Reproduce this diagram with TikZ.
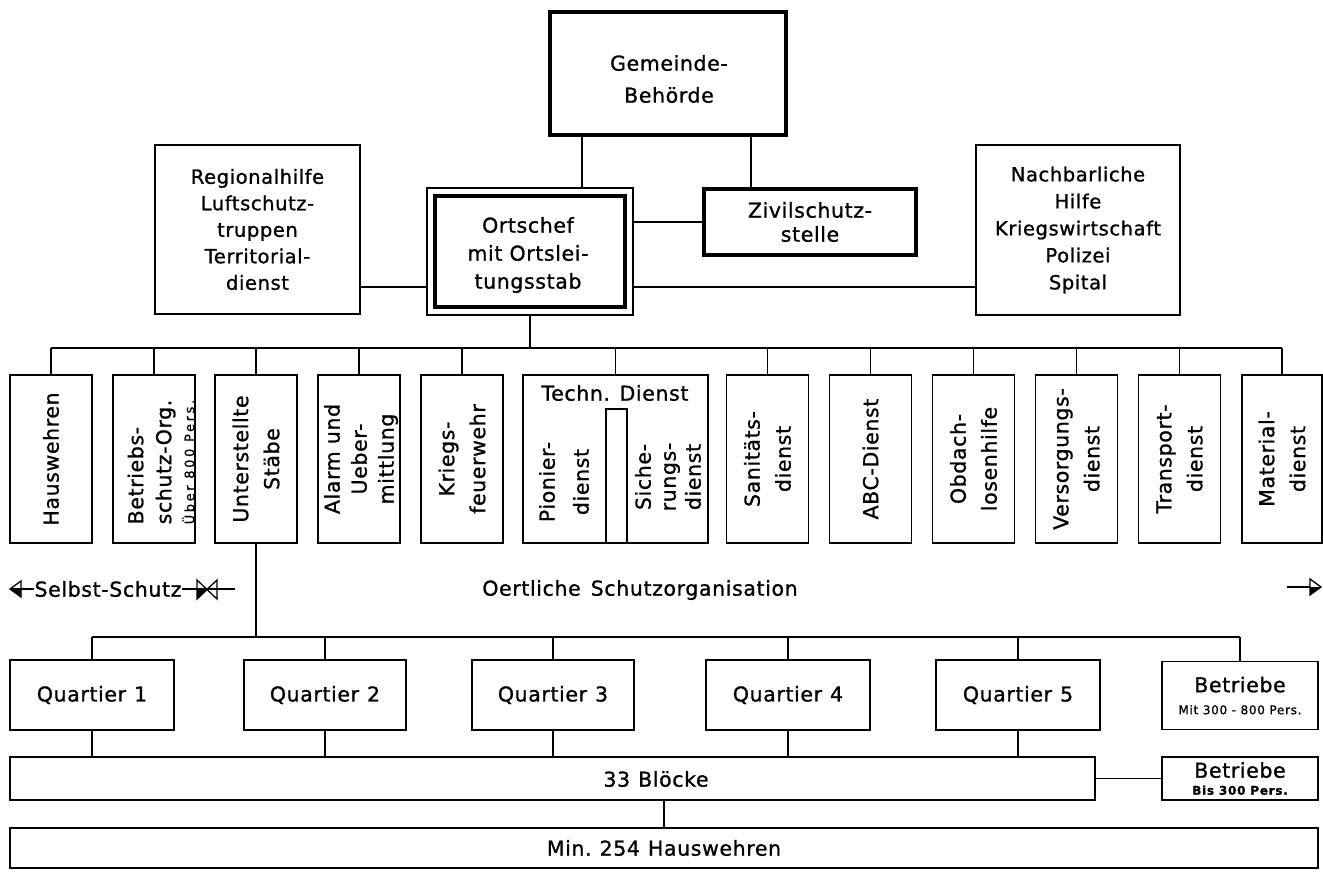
\documentclass[tikz,border=0pt]{standalone}
\usepackage{fontspec}
\setmainfont{DejaVu Sans}[LetterSpace=3,FakeBold=1]
\begin{document}
\begin{tikzpicture}[x=1pt,y=-1pt,font=\fontsize{20.5}{26}\selectfont]
\tikzset{
  thinbox/.style={draw,line width=1.6pt,inner sep=0pt,outer sep=0pt,align=center},
  thickbox/.style={draw,line width=4pt,inner sep=0pt,outer sep=0pt,align=center},
  vbox/.style={thinbox,minimum width=82,minimum height=168},
  vtext/.style={rotate=90,align=center,inner sep=0pt,font=\fontsize{20.5}{28}\selectfont},
  txt/.style={inner sep=0pt,align=center},
  conn/.style={line width=1.6pt},
}
\newcommand{\smallline}{\fontsize{12}{13}\selectfont\addfontfeature{LetterSpace=6}}
\fill[white] (0,0) rectangle (1323,873);
\useasboundingbox (0,0) rectangle (1323,873);

% top level
\node[thickbox,minimum width=236,minimum height=123] (gem) at (668,73.5) {};
\node[txt,font=\fontsize{20.5}{32}\selectfont] (gemT) at (669,79) {Gemeinde-\\Behörde};
\node[thinbox,minimum width=206,minimum height=127] (ortO) at (530,251.5) {};
\node[thickbox,minimum width=190,minimum height=111] (ortI) at (530,251.5) {};
\node[txt,font=\fontsize{20.5}{28}\selectfont] (ortT) at (528,255) {Ortschef\\mit Ortslei-\\tungsstab};
\node[thickbox,minimum width=212,minimum height=66,font=\fontsize{20.5}{24}\selectfont] (ziv) at (810,222) {Zivilschutz-\\stelle};
\node[thinbox,minimum width=205,minimum height=169,font=\fontsize{19.5}{26.5}\selectfont] (reg) at (257.5,229.5) {Regionalhilfe\\Luftschutz-\\truppen\\Territorial-\\dienst};
\node[thinbox,minimum width=204,minimum height=170,font=\fontsize{19.5}{27}\selectfont] (nach) at (1078,230) {Nachbarliche\\Hilfe\\Kriegswirtschaft\\Polizei\\Spital};

\coordinate (g1) at (582,0);
\coordinate (g2) at (751,0);
\coordinate (yl) at (0,287);
\draw[conn] (gem.south -| g1) -- (ortO.north -| g1);
\draw[conn] (gem.south -| g2) -- (ziv.north -| g2);
\draw[conn] (ziv.west -| ortO.east) -- (ziv.west);
\draw[conn] (reg.east |- yl) -- (ortO.west |- yl);
\draw[conn] (ortO.east |- yl) -- (nach.west |- yl);

% second level
\node[vbox] (b1) at (51,459) {};
\node[vbox] (b2) at (154,459) {};
\node[vbox] (b3) at (256,459) {};
\node[vbox] (b4) at (359,459) {};
\node[vbox] (b5) at (462,459) {};
\node[thinbox,minimum width=185,minimum height=168] (tech) at (615.5,459) {};
\node[vbox] (b7) at (767.5,459) {};
\node[vbox] (b8) at (870.5,459) {};
\node[vbox] (b9) at (973.5,459) {};
\node[vbox] (b10) at (1076.5,459) {};
\node[vbox] (b11) at (1179.5,459) {};
\node[vbox,minimum width=80] (b12) at (1282,459) {};

\node[vtext] (t1) at (b1) {Hauswehren};
\node[vtext,align=left] (t2) at (161,462) {Betriebs-\\schutz-Org.\\[-5pt]{\fontsize{13}{13}\selectfont\addfontfeature{LetterSpace=20}Über 800 Pers.}};
\node[vtext,font=\fontsize{20.5}{31}\selectfont] (t3) at (b3) {Unterstellte\\Stäbe};
\node[vtext,font=\fontsize{20.5}{27}\selectfont] (t4) at (361,459) {Alarm und\\Ueber-\\mittlung};
\node[vtext,font=\fontsize{20.5}{31}\selectfont] (t5) at (b5) {Kriegs-\\feuerwehr};
\node[txt] (techt) at (615,393) {Techn. Dienst};
\node[vtext,font=\fontsize{20.5}{34}\selectfont] (tp) at (564,482) {Pionier-\\dienst};
\node[vtext,font=\fontsize{20.5}{25}\selectfont] (ts) at (668,477) {Siche-\\rungs-\\dienst};
\node[vtext,font=\fontsize{20.5}{31}\selectfont] (t7) at (b7) {Sanitäts-\\dienst};
\node[vtext] (t8) at (b8) {ABC-Dienst};
\node[vtext,font=\fontsize{20.5}{31}\selectfont] (t9) at (b9) {Obdach-\\losenhilfe};
\node[vtext,font=\fontsize{20.5}{31}\selectfont] (t10) at (b10) {Versorgungs-\\dienst};
\node[vtext,font=\fontsize{20.5}{31}\selectfont] (t11) at (b11) {Transport-\\dienst};
\node[vtext,font=\fontsize{20.5}{31}\selectfont] (t12) at (b12) {Material-\\dienst};

\draw[conn] (tech.south) ++(-9.5,0) -- ++(0,-134) -- ++(21,0) -- ++(0,134);

\coordinate (bus1) at (0,348);
\draw[conn] (ortO.south) -- (ortO.south |- bus1);
\draw[conn] (b1.north |- bus1) -- (b12.north |- bus1);
\foreach \n in {b1,b2,b3,b4,b5,tech,b7,b8,b9,b10,b11,b12}
  \draw[conn] (\n.north) -- (\n.north |- bus1);

% Selbst-Schutz row
\node[txt] (ss) at (108,589) {Selbst-Schutz};
\node[txt] (osz) at (640,590) {Oertliche\hspace{10pt}Schutzorganisation};
\coordinate (ssA) at (10,589);
\coordinate (ssB) at (235,589);
\draw[conn] (ssA) -- (ss.west);
\draw[line width=1.3pt] (ssA) -- ++(11,-8) -- ++(0,16) -- cycle;
\fill (ssA) -- ++(11,0) -- ++(0,8) -- cycle;
\draw[conn] (ss.east) -- (ssB);
\draw[line width=1.3pt] (197,580) -- (197,599) -- (207,589.5) -- cycle;
\draw[line width=1.3pt] (217,580) -- (217,599) -- (207,589.5) -- cycle;
\fill (197,589.5) -- (197,599) -- (207,589.5) -- cycle;
\coordinate (raA) at (1287,587);
\coordinate (raB) at (1310,587);
\draw[conn] (raA) -- (raB);
\draw[line width=1.3pt] (raB) -- ++(0,-8) -- ++(11,8) -- ++(-11,8) -- cycle;
\fill (raB) -- ++(11,0) -- ++(-11,8) -- cycle;

% third level
\node[thinbox,minimum width=164,minimum height=70] (q1) at (92,695) {Quartier\hspace{8pt}1};
\node[thinbox,minimum width=162,minimum height=70] (q2) at (325,695) {Quartier\hspace{8pt}2};
\node[thinbox,minimum width=162,minimum height=70] (q3) at (553,695) {Quartier\hspace{8pt}3};
\node[thinbox,minimum width=164,minimum height=70] (q4) at (788,695) {Quartier\hspace{8pt}4};
\node[thinbox,minimum width=164,minimum height=70] (q5) at (1018,695) {Quartier\hspace{8pt}5};
\node[thinbox,minimum width=156,minimum height=68] (bet1) at (1240,695.5) {Betriebe\\[-4pt]{\smallline Mit 300 - 800 Pers.}};

\coordinate (bus2) at (0,637);
\draw[conn] (b3.south) -- (b3.south |- bus2);
\draw[conn] (q1.north |- bus2) -- (bet1.north |- bus2);
\foreach \n in {q1,q2,q3,q4,q5,bet1}
  \draw[conn] (\n.north) -- (\n.north |- bus2);

% bottom
\node[thinbox,minimum width=1085,minimum height=43] (blk) at (552.5,778.5) {};
\node[txt] (blkt) at (656,779) {33\hspace{8pt}Blöcke};
\node[thinbox,minimum width=156,minimum height=43,font=\fontsize{20.5}{26}\selectfont] (bet2) at (1240,778.5) {Betriebe\\[-9pt]{\smallline\bfseries Bis 300 Pers.}};
\node[thinbox,minimum width=1308,minimum height=40] (minb) at (664,848) {Min.\hspace{8pt}254\hspace{8pt}Hauswehren};

\foreach \n in {q1,q2,q3,q4,q5}
  \draw[conn] (\n.south) -- (\n.south |- blk.north);
\draw[conn] (blk.east) -- (bet2.west);
\draw[conn] (blk.south -| minb.north) -- (minb.north);
\end{tikzpicture}
\end{document}
